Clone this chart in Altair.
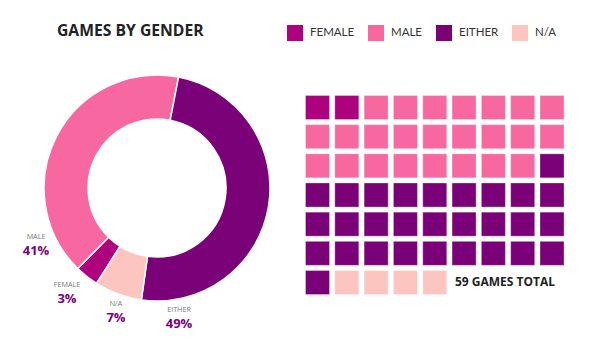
import math
import altair as alt
import pandas as pd

# ---- data ----
categories = ["FEMALE", "MALE", "EITHER", "N/A"]
counts = [2, 24, 29, 4]
colors = ["#ae017e", "#f768a1", "#7a0177", "#fcc5c0"]
donut_order = ["EITHER", "N/A", "FEMALE", "MALE"]
title_text = "GAMES BY GENDER"
total_suffix = " GAMES TOTAL"
n_cols = 9

total = sum(counts)
summary = pd.DataFrame({
    "category": categories,
    "count": counts,
    "order": [donut_order.index(c) for c in categories],
    "pct": [f"{round(100 * c / total)}%" for c in counts],
})

cells = []
i = 0
for cat, c in zip(categories, counts):
    for _ in range(c):
        cells.append({"category": cat, "col": i % n_cols, "row": i // n_cols})
        i += 1
waffle_df = pd.DataFrame(cells)

# ---- styling / layout ----
FONT = "Open Sans"
LFONT = "Lato"
color_scale = alt.Scale(domain=categories, range=colors)
start = math.radians(11)
cx, cy = 149, 130

donut = alt.Chart(summary).mark_arc(
    outerRadius=113, innerRadius=69, stroke="white", strokeWidth=1.5
).encode(
    theta=alt.Theta("count:Q", stack=True,
                    scale=alt.Scale(range=[start, start + 2 * math.pi])),
    order=alt.Order("order:Q"),
    color=alt.Color("category:N", scale=color_scale, legend=alt.Legend(
        orient="none", legendX=279, legendY=-33, direction="horizontal",
        title=None, symbolType="square", symbolSize=256, symbolStrokeWidth=0,
        symbolOpacity=1, labelFont=LFONT, labelFontSize=11.5, labelColor="#333",
        labelOffset=7, columnPadding=13)),
    x=alt.value(cx), y=alt.value(cy),
)

waffle = alt.Chart(waffle_df).mark_square(
    size=576, opacity=1, stroke="white", strokeOpacity=0.3, strokeWidth=1
).encode(
    x=alt.X("col:Q", axis=None, scale=alt.Scale(domain=[0, 8], range=[309.5, 544])),
    y=alt.Y("row:Q", axis=None, scale=alt.Scale(domain=[0, 6], range=[49.5, 224.5])),
    color=alt.Color("category:N", scale=color_scale),
)

label_pos = {
    "MALE": (28, 179),
    "FEMALE": (59, 227),
    "N/A": (108, 246),
    "EITHER": (171, 252),
}
labels = []
for cat, (lx, ly) in label_pos.items():
    base = alt.Chart(summary).transform_filter(alt.datum.category == cat)
    labels.append(base.mark_text(
        font=FONT, fontSize=7.2, color="#777",
        align="center", baseline="alphabetic"
    ).encode(text="category:N", x=alt.value(lx), y=alt.value(ly + 1.5)))
    labels.append(base.mark_text(
        font=FONT, fontSize=13, fontWeight="bold", color="#7a0177",
        align="center", baseline="alphabetic"
    ).encode(text="pct:N", x=alt.value(lx), y=alt.value(ly + 17.7)))

total_text = alt.Chart(summary).transform_aggregate(
    total="sum(count)"
).transform_calculate(
    label="datum.total + '" + total_suffix + "'"
).mark_text(
    font=FONT, fontSize=12, fontWeight="bold", color="#222",
    align="left", baseline="middle"
).encode(text="label:N", x=alt.value(447), y=alt.value(224))

chart = alt.layer(donut, waffle, *labels, total_text).properties(
    width=574, height=292,
    padding={"left": 0, "top": 50, "right": 0, "bottom": 0},
    autosize=alt.AutoSizeParams(type="none"),
    background="white",
    title=alt.Title(title_text, anchor="start", dx=49, offset=0, dy=27,
                    fontSize=15.7, font=FONT, fontWeight="bold", color="#222",
                    baseline="alphabetic"),
).configure_view(strokeWidth=0, stroke="transparent")

chart.save("out.html", embed_options={"renderer": "svg", "actions": False})
